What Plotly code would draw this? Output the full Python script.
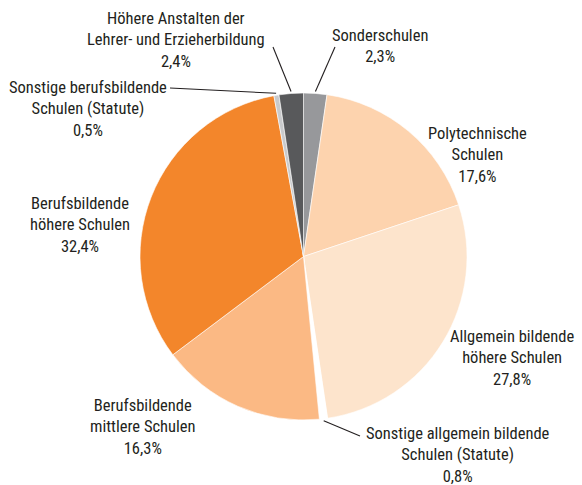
import math
import plotly.graph_objects as go

labels = [
    "Sonderschulen",
    "Polytechnische<br>Schulen",
    "Allgemein bildende<br>höhere Schulen",
    "Sonstige allgemein bildende<br>Schulen (Statute)",
    "Berufsbildende<br>mittlere Schulen",
    "Berufsbildende<br>höhere Schulen",
    "Sonstige berufsbildende<br>Schulen (Statute)",
    "Höhere Anstalten der<br>Lehrer- und Erzieherbildung",
]
values = [2.3, 17.6, 27.8, 0.8, 16.3, 32.4, 0.5, 2.4]
pct_text = ["2,3%", "17,6%", "27,8%", "0,8%", "16,3%", "32,4%", "0,5%", "2,4%"]
colors = ["#97989b", "#fdd3ae", "#fde4cc", "#ffffff", "#fbb984", "#f3862b", "#c9cacc", "#58595b"]

W, H = 582, 485
CX, CY, R = 303.5, 256.5, 163.5

# label centre positions (pixels) and leader endpoints (None = no leader)
label_pos = [(380, 46), (477, 155), (512, 358), (458, 455), (143, 427), (80, 225), (88, 109), (176, 40)]
leader_end = [(335, 47), None, None, (360, 436), None, None, (170, 88), (273, 47)]

fig = go.Figure(go.Pie(
    labels=[l.replace("<br>", " ") for l in labels],
    values=values,
    sort=False,
    direction="clockwise",
    rotation=0,
    marker=dict(colors=colors, line=dict(color="#ffffff", width=0.6)),
    textinfo="none",
    hoverinfo="label+percent",
    showlegend=False,
    domain=dict(x=[(CX - R) / W, (CX + R) / W], y=[1 - (CY + R) / H, 1 - (CY - R) / H]),
))

font = dict(family="Roboto Condensed, Liberation Sans Narrow, Arial Narrow, sans-serif",
            size=16.5, color="#231f20")

total = sum(values)
cum = 0.0
annotations = []
shapes = []
for i, v in enumerate(values):
    mid = (cum + v / 2) / total * 2 * math.pi
    cum += v
    lx, ly = label_pos[i]
    annotations.append(dict(
        x=lx / W, y=1 - ly / H, xref="paper", yref="paper",
        text=labels[i] + "<br>" + pct_text[i], showarrow=False,
        xanchor="center", yanchor="middle", align="center", font=font,
    ))
    if leader_end[i] is not None:
        px = CX + (R + 2) * math.sin(mid)
        py = CY - (R + 2) * math.cos(mid)
        ex, ey = leader_end[i]
        shapes.append(dict(type="line", xref="paper", yref="paper",
                           x0=px / W, y0=1 - py / H, x1=ex / W, y1=1 - ey / H,
                           line=dict(color="#231f20", width=1.1)))

fig.update_layout(
    width=W, height=H, autosize=False,
    margin=dict(l=0, r=0, t=0, b=0),
    paper_bgcolor="#ffffff", plot_bgcolor="#ffffff",
    annotations=annotations, shapes=shapes,
)

fig.write_html("out.html", config={"displayModeBar": False},
               post_script="document.body.style.margin='0px';document.body.style.overflow='hidden';")
